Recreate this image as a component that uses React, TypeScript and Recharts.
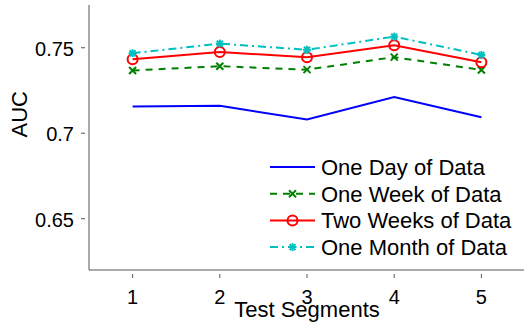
import React from 'react';
import { LineChart, Line, XAxis, YAxis } from 'recharts';

const segments = [1, 2, 3, 4, 5];
const oneDay = [0.7157, 0.716, 0.708, 0.7212, 0.7093];
const oneWeek = [0.7367, 0.7392, 0.7372, 0.7445, 0.737];
const twoWeeks = [0.7433, 0.7475, 0.7445, 0.7515, 0.7415];
const oneMonth = [0.7468, 0.7524, 0.7488, 0.7565, 0.7458];
const yTicks = [0.65, 0.7, 0.75];

const data = segments.map((s, i) => ({
  seg: s,
  day: oneDay[i],
  week: oneWeek[i],
  twoWeeks: twoWeeks[i],
  month: oneMonth[i],
}));

const FONT = 'Liberation Sans, Arial, sans-serif';
const AXIS = '#555';

const XMark = ({ cx, cy, color }: any) => (
  <g stroke={color} strokeWidth={2}>
    <line x1={cx - 3.5} y1={cy - 3.5} x2={cx + 3.5} y2={cy + 3.5} />
    <line x1={cx - 3.5} y1={cy + 3.5} x2={cx + 3.5} y2={cy - 3.5} />
  </g>
);

const StarMark = ({ cx, cy, color }: any) => (
  <g stroke={color} strokeWidth={2}>
    <line x1={cx - 4} y1={cy} x2={cx + 4} y2={cy} />
    <line x1={cx} y1={cy - 4} x2={cx} y2={cy + 4} />
    <line x1={cx - 3} y1={cy - 3} x2={cx + 3} y2={cy + 3} />
    <line x1={cx - 3} y1={cy + 3} x2={cx + 3} y2={cy - 3} />
  </g>
);

const CircleMark = ({ cx, cy, color }: any) => (
  <circle cx={cx} cy={cy} r={5} fill="none" stroke={color} strokeWidth={2} />
);

const XTick = ({ x, y, payload }: any) => (
  <g>
    <line x1={x} y1={y} x2={x} y2={y - 4} stroke={AXIS} />
    <text x={x} y={y + 26} textAnchor="middle" fontSize={20} fontFamily={FONT} fill="#000">
      {payload.value}
    </text>
  </g>
);

const YTick = ({ x, y, payload }: any) => (
  <g>
    <line x1={x} y1={y} x2={x + 4} y2={y} stroke={AXIS} />
    <text x={x - 7} y={y + 8} textAnchor="end" fontSize={20} fontFamily={FONT} fill="#000">
      {String(payload.value)}
    </text>
  </g>
);

// x-axis title, drawn under the tick numbers
const XTitle = ({ viewBox }: any) => (
  <text x={307} y={viewBox.y + 47} textAnchor="middle" fontSize={22} fontFamily={FONT} fill="#000">
    Test Segments
  </text>
);

const legendItems = [
  { label: 'One Day of Data', color: '#0000ff', dash: undefined, mark: null },
  { label: 'One Week of Data', color: '#008000', dash: '7 6', mark: XMark },
  { label: 'Two Weeks of Data', color: '#ff0000', dash: undefined, mark: CircleMark },
  { label: 'One Month of Data', color: '#00bfbf', dash: '8 4 2 4', mark: StarMark },
];

const LegendBox = () => (
  <svg width={260} height={110} style={{ position: 'absolute', left: 268, top: 155 }}>
    {legendItems.map((it, i) => {
      const cy = 12 + i * 26.7;
      const M = it.mark as any;
      return (
        <g key={it.label}>
          <line x1={2} y1={cy} x2={47} y2={cy} stroke={it.color} strokeWidth={2} strokeDasharray={it.dash} />
          {M && <M cx={24.5} cy={cy} color={it.color} />}
          <text x={53} y={cy + 8} fontSize={22} fontFamily={FONT} fill="#000">
            {it.label}
          </text>
        </g>
      );
    })}
  </svg>
);

export default function App() {
  return (
    <div style={{ position: 'absolute', left: 0, top: 0, width: 524, height: 325, overflow: 'hidden', background: '#fff' }}>
      <LineChart width={530} height={325} data={data} margin={{ top: 5, right: 5, left: 0, bottom: 0 }}>
        <XAxis
          dataKey="seg"
          type="number"
          domain={[0.5, 5.5]}
          ticks={segments}
          tickLine={false}
          tick={<XTick />}
          stroke={AXIS}
          height={55}
          label={<XTitle />}
        />
        <YAxis
          type="number"
          domain={[0.62, 0.775]}
          ticks={yTicks}
          tickLine={false}
          tick={<YTick />}
          stroke={AXIS}
          width={89}
          allowDataOverflow
          label={{ value: 'AUC', angle: -90, position: 'insideLeft', offset: 19, fontSize: 22, fontFamily: FONT, fill: '#000' }}
        />
        <Line dataKey="day" stroke="#0000ff" strokeWidth={2} dot={false} isAnimationActive={false} />
        <Line dataKey="week" stroke="#008000" strokeWidth={2} strokeDasharray="7 6" dot={<XMark color="#008000" />} isAnimationActive={false} />
        <Line dataKey="twoWeeks" stroke="#ff0000" strokeWidth={2} dot={<CircleMark color="#ff0000" />} isAnimationActive={false} />
        <Line dataKey="month" stroke="#00bfbf" strokeWidth={2} strokeDasharray="8 4 2 4" dot={<StarMark color="#00bfbf" />} isAnimationActive={false} />
      </LineChart>
      <LegendBox />
    </div>
  );
}
